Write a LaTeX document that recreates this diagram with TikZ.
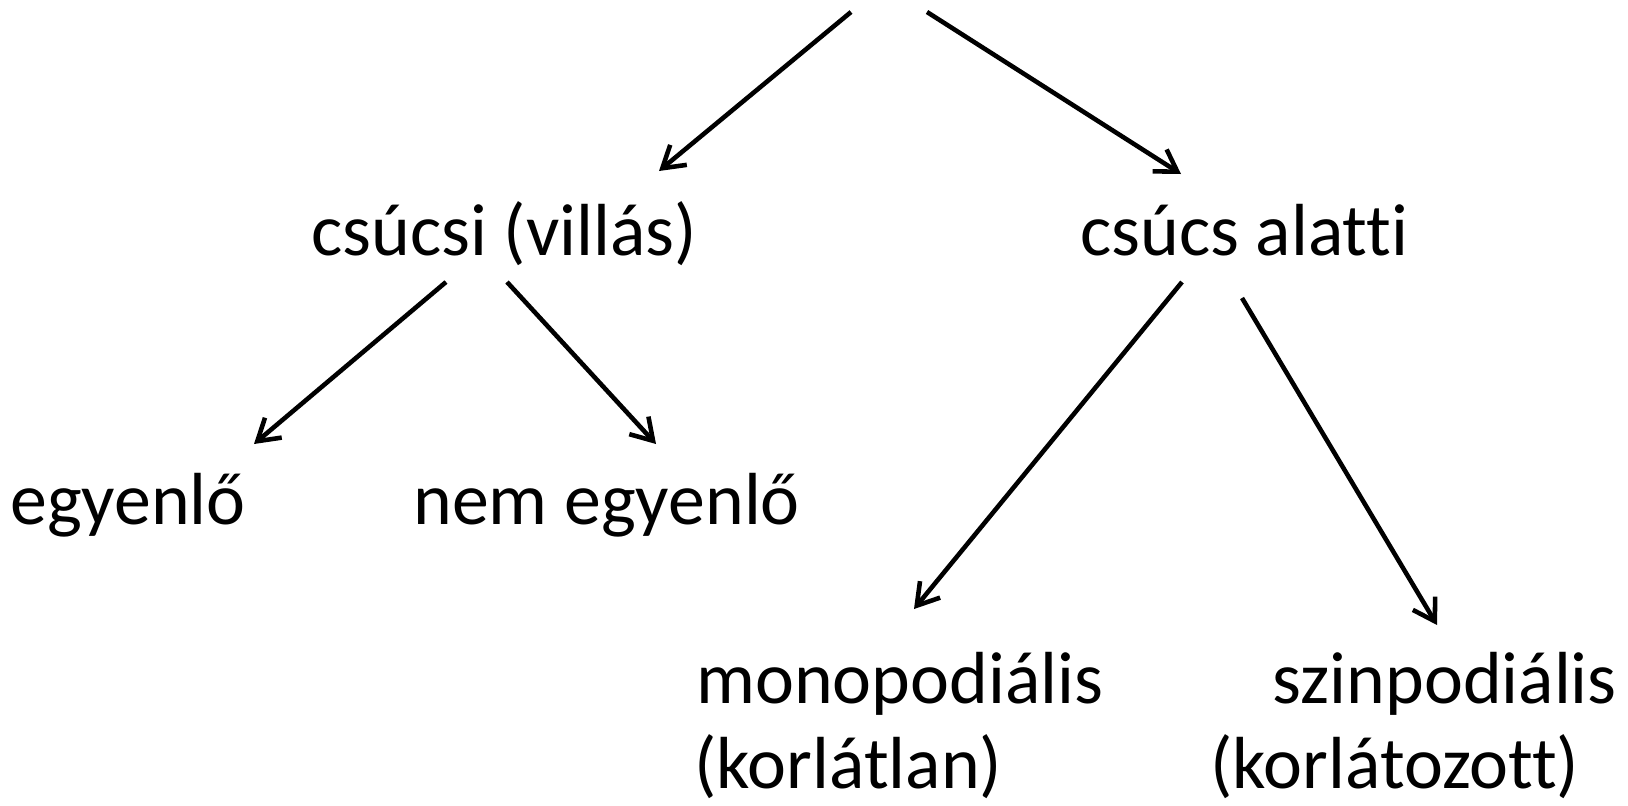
\documentclass[tikz,border=0pt]{standalone}
\usepackage{fontspec}
\setmainfont{Carlito}[Ligatures=NoCommon]
\usetikzlibrary{arrows.meta, positioning, calc}
\tikzstyle{term} = [inner sep=0pt, anchor=base west, font=\fontsize{42}{50}\selectfont]
\tikzstyle{arrow} = [line width=2.6pt, -{Straight Barb[length=0.42cm,width=0.52cm]}]

\begin{document}
\begin{tikzpicture}[x=0.02cm, y=-0.02cm]
    \useasboundingbox (0,0) rectangle (1628,805);
    % nodes
    \node (csucsi) [term] at (311,255) {csúcsi (villás)};
    \node (alatti) [term] at (1080,255) {csúcs alatti};
    \node (egyenlo) [term] at (10,524) {egyenlő};
    \node (nemegyenlo) [term] at (413,524) {nem egyenlő};
    \node (mono) [term] at (696,703) {monopodiális};
    \node (korlatlan) [term] at ($(mono.base west)+(-2,85)$) {(korlátlan)};
    \node (szin) [term] at (1272,703) {szinpodiális};
    \node (korlatozott) [term] at ($(szin.base west)+(-62,85)$) {(korlátozott)};
    \coordinate (topleft) at (851,12);
    \coordinate (topright) at (927,12);

    % arrows
    \draw [arrow] (topleft) -- ($(csucsi.base west)+(348,-84)$);
    \draw [arrow] (topright) -- ($(alatti.base west)+(101,-81)$);
    \draw [arrow] ($(csucsi.base west)+(135,27)$) -- ($(egyenlo.base west)+(244,-80)$);
    \draw [arrow] ($(csucsi.base west)+(196,27)$) -- ($(nemegyenlo.base west)+(243,-80)$);
    \draw [arrow] ($(alatti.base west)+(102,27)$) -- ($(mono.base west)+(218,-94)$);
    \draw [arrow] ($(alatti.base west)+(162,43)$) -- ($(szin.base west)+(165,-78)$);
\end{tikzpicture}
\end{document}
